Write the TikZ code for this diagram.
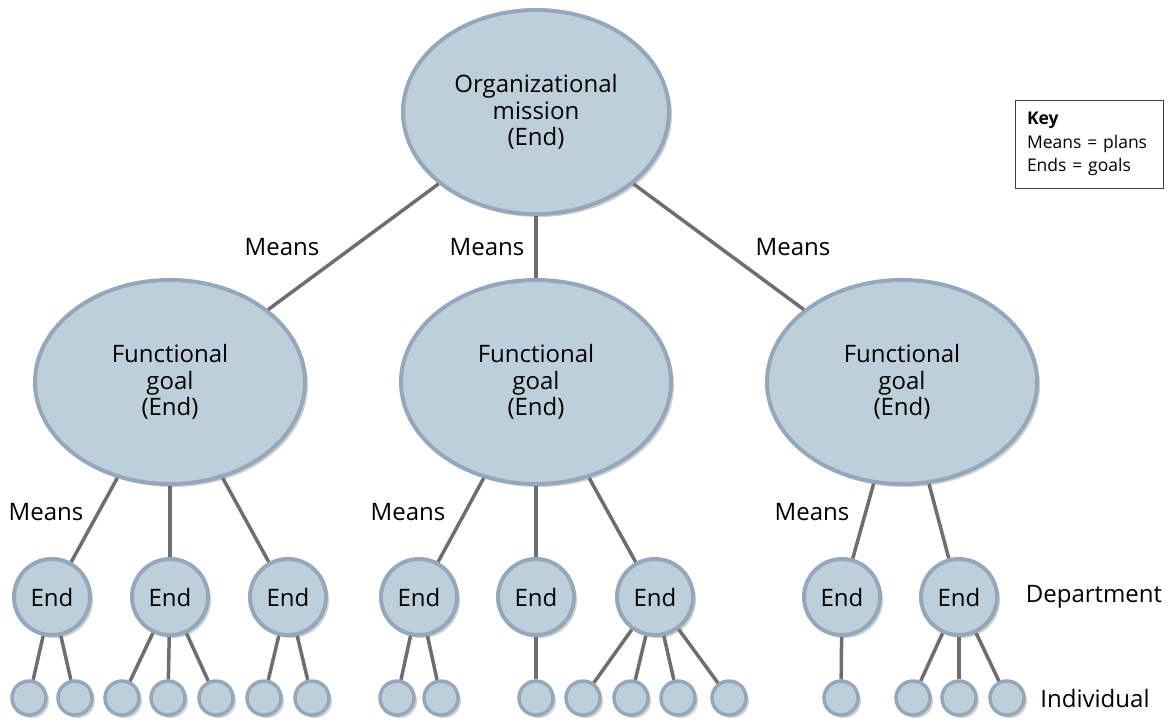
\documentclass[tikz,border=0pt]{standalone}
\usepackage{fontspec}
\setmainfont{Open Sans}
\usepackage{xcolor}
\usepackage{tikz}
\usetikzlibrary{shapes.geometric,shadows}
\definecolor{bubblefill}{RGB}{190,207,220}
\definecolor{bubblering}{RGB}{148,167,187}
\definecolor{linkgray}{RGB}{110,110,110}

\begin{document}
\begin{tikzpicture}[
    x=1pt, y=-1pt,
    link/.style={draw=linkgray, line width=3.5pt},
    bubble/.style={fill=bubblefill, draw=bubblering, line width=4pt, inner sep=0pt,
        drop shadow={shadow xshift=3pt, shadow yshift=-3pt, opacity=0.18, fill=black}},
    mission/.style={bubble, ellipse, minimum width=266pt, minimum height=204pt,
        align=center, font=\fontsize{24}{26.5}\selectfont},
    goal/.style={bubble, ellipse, minimum width=270pt, minimum height=204pt,
        align=center, font=\fontsize{24}{26.5}\selectfont},
    dept/.style={bubble, circle, minimum size=76pt, font=\fontsize{24}{26.5}\selectfont},
    indiv/.style={bubble, circle, line width=3.5pt, minimum size=34pt},
    lbl/.style={font=\fontsize{24}{26.5}\selectfont, inner sep=0pt},
    keybox/.style={draw=black!75, line width=1pt, align=left, text width=124pt,
        inner xsep=12pt, minimum height=88pt, font=\fontsize{17.5}{23.5}\selectfont}
]
\useasboundingbox (0,0) rectangle (1171,721);
\node[mission] (mission) at (536,112) {Organizational\\mission\\(End)};
\node[goal] (goalA) at (170,382) {Functional\\goal\\(End)};
\node[goal] (goalB) at (536,382) {Functional\\goal\\(End)};
\node[goal] (goalC) at (902,382) {Functional\\goal\\(End)};
\node[dept] (deptA) at (52,597) {End};
\node[dept] (deptB) at (170,597) {End};
\node[dept] (deptC) at (288,597) {End};
\node[dept] (deptD) at (419,597) {End};
\node[dept] (deptE) at (536,597) {End};
\node[dept] (deptF) at (655,597) {End};
\node[dept] (deptG) at (842,597) {End};
\node[dept] (deptH) at (959,597) {End};
\node[indiv] (indA) at (29,698) {};
\node[indiv] (indB) at (75,698) {};
\node[indiv] (indC) at (122,698) {};
\node[indiv] (indD) at (168,698) {};
\node[indiv] (indE) at (216,698) {};
\node[indiv] (indF) at (264,698) {};
\node[indiv] (indG) at (312,698) {};
\node[indiv] (indH) at (397,698) {};
\node[indiv] (indI) at (441,698) {};
\node[indiv] (indJ) at (536,698) {};
\node[indiv] (indK) at (583,698) {};
\node[indiv] (indL) at (631,698) {};
\node[indiv] (indM) at (678,698) {};
\node[indiv] (indN) at (729,698) {};
\node[indiv] (indO) at (841,698) {};
\node[indiv] (indP) at (913,698) {};
\node[indiv] (indQ) at (959,698) {};
\node[indiv] (indR) at (1007,698) {};
\node[lbl] (meansA) at (282,247) {Means};
\node[lbl] (meansB) at (487,247) {Means};
\node[lbl] (meansC) at (793,247) {Means};
\node[lbl] (meansD) at (46,512) {Means};
\node[lbl] (meansE) at (408,512) {Means};
\node[lbl] (meansF) at (812,512) {Means};
\node[lbl] (deptlevel) at (1094,597) {Department};
\node[lbl] (indivlevel) at (1095,698) {Individual};
\node[keybox] (key) at (1089,144) {\textbf{Key}\\Means = plans\\Ends = goals};
\draw[link] (mission) -- (goalA);
\draw[link] (mission) -- (goalB);
\draw[link] (mission) -- (goalC);
\draw[link] (goalA) -- (deptA);
\draw[link] (goalA) -- (deptB);
\draw[link] (goalA) -- (deptC);
\draw[link] (goalB) -- (deptD);
\draw[link] (goalB) -- (deptE);
\draw[link] (goalB) -- (deptF);
\draw[link] (goalC) -- (deptG);
\draw[link] (goalC) -- (deptH);
\draw[link] (deptA) -- (indA);
\draw[link] (deptA) -- (indB);
\draw[link] (deptB) -- (indC);
\draw[link] (deptB) -- (indD);
\draw[link] (deptB) -- (indE);
\draw[link] (deptC) -- (indF);
\draw[link] (deptC) -- (indG);
\draw[link] (deptD) -- (indH);
\draw[link] (deptD) -- (indI);
\draw[link] (deptE) -- (indJ);
\draw[link] (deptF) -- (indK);
\draw[link] (deptF) -- (indL);
\draw[link] (deptF) -- (indM);
\draw[link] (deptF) -- (indN);
\draw[link] (deptG) -- (indO);
\draw[link] (deptH) -- (indP);
\draw[link] (deptH) -- (indQ);
\draw[link] (deptH) -- (indR);
\end{tikzpicture}
\end{document}
